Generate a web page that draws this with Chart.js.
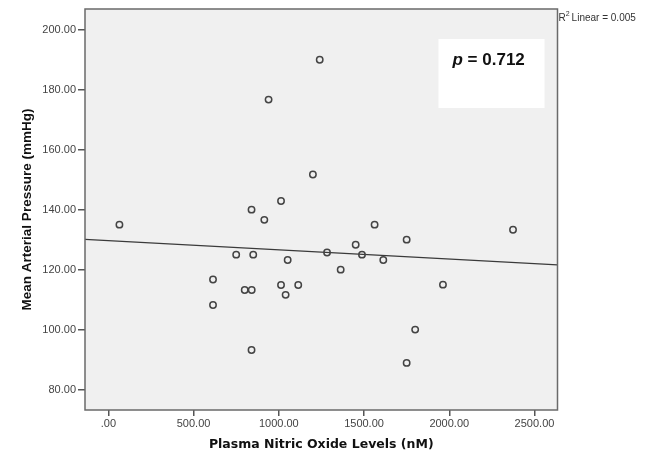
<!DOCTYPE html>
<html>
<head>
<meta charset="utf-8">
<script src="https://cdn.jsdelivr.net/npm/chart.js@4"></script>
<style>
    body { margin: 0; background: #fff; }
    canvas { display: block; }
</style>
</head>
<body>
<canvas id="scatterChart" width="659" height="452"></canvas>
<script>
// Data
const nitricOxide = [65, 614, 614, 750, 800, 840, 850, 841, 840, 915, 940, 1013, 1013, 1040, 1052, 1114, 1200, 1240, 1283, 1363, 1451, 1488, 1562, 1613, 1750, 1750, 1800, 1963, 2374];
const arterialPressure = [135.1, 116.8, 108.3, 125.1, 113.3, 140.1, 125.1, 113.3, 93.3, 136.7, 176.8, 143, 115, 111.7, 123.3, 115, 151.8, 190.1, 125.8, 120.1, 128.4, 125.1, 135.1, 123.3, 130.1, 89, 100.1, 115.1, 133.4];

// Fit line ends, as drawn across the plot
const fitX = [-137, 2635];
const fitY = [130.2, 121.7];

const xTicks = [0, 500, 1000, 1500, 2000, 2500];
const yTicks = [80, 100, 120, 140, 160, 180, 200];

const pValueText = '0.712';
const rSquaredText = '0.005';

const scatterPoints = nitricOxide.map((x, i) => ({ x: x, y: arterialPressure[i] }));
const fitPoints = fitX.map((x, i) => ({ x: x, y: fitY[i] }));

function tickLabel(v) {
    return v === 0 ? '.00' : v.toFixed(2);
}

// plot background, frame and text boxes
const plotDecor = {
    id: 'plotDecor',
    beforeDatasetsDraw(chart) {
        const { ctx, chartArea: a } = chart;
        ctx.save();
        ctx.fillStyle = '#f0f0f0';
        ctx.fillRect(a.left, a.top, a.right - a.left, a.bottom - a.top);

        // white box for p value
        ctx.fillStyle = '#ffffff';
        ctx.fillRect(a.right - 119, a.top + 30, 106, 69);
        ctx.restore();
    },
    afterDraw(chart) {
        const { ctx, chartArea: a } = chart;
        ctx.save();
        ctx.strokeStyle = '#6a6a6a';
        ctx.lineWidth = 1.5;
        ctx.strokeRect(a.left, a.top, a.right - a.left, a.bottom - a.top);

        // p = 0.712
        ctx.fillStyle = '#111';
        ctx.textBaseline = 'alphabetic';
        let x = a.right - 105;
        const y = a.top + 56;
        ctx.font = 'italic bold 17px "Liberation Sans", Arial, sans-serif';
        ctx.fillText('p', x, y);
        x += ctx.measureText('p').width;
        ctx.font = 'bold 17px "Liberation Sans", Arial, sans-serif';
        ctx.fillText(' = ' + pValueText, x, y);

        // R2 Linear label
        ctx.fillStyle = '#333';
        let rx = a.right + 1;
        ctx.font = '10px "Liberation Sans", Arial, sans-serif';
        ctx.fillText('R', rx, 21);
        rx += ctx.measureText('R').width;
        ctx.font = '7px "Liberation Sans", Arial, sans-serif';
        ctx.fillText('2', rx, 16);
        rx += ctx.measureText('2').width + 2;
        ctx.font = '10px "Liberation Sans", Arial, sans-serif';
        ctx.fillText('Linear = ' + rSquaredText, rx, 21);
        ctx.restore();
    }
};

const ctx = document.getElementById('scatterChart').getContext('2d');

new Chart(ctx, {
    type: 'scatter',
    data: {
        datasets: [
            {
                label: 'Fit',
                type: 'line',
                data: fitPoints,
                borderColor: '#3a3a3a',
                borderWidth: 1.2,
                pointRadius: 0,
                fill: false,
                order: 2
            },
            {
                label: 'MAP',
                data: scatterPoints,
                pointStyle: 'circle',
                pointRadius: 3.2,
                borderWidth: 1.5,
                borderColor: '#444',
                backgroundColor: 'rgba(0,0,0,0)',
                order: 1
            }
        ]
    },
    options: {
        responsive: false,
        animation: false,
        devicePixelRatio: 1,
        layout: { padding: { top: 9, right: 101.5, bottom: 0, left: 0 } },
        plugins: {
            legend: { display: false },
            tooltip: { enabled: false }
        },
        scales: {
            x: {
                type: 'linear',
                min: -137,
                max: 2635,
                afterFit(scale) { scale.height = 42; },
                afterBuildTicks(scale) { scale.ticks = xTicks.map(v => ({ value: v })); },
                border: { display: false },
                grid: {
                    drawOnChartArea: false,
                    drawTicks: true,
                    tickLength: 6,
                    tickColor: '#555',
                    lineWidth: 1.5
                },
                ticks: {
                    padding: 1,
                    color: '#444',
                    font: { family: '"Liberation Sans", Arial, sans-serif', size: 11 },
                    maxRotation: 0,
                    callback: tickLabel
                },
                title: {
                    display: true,
                    text: 'Plasma Nitric Oxide Levels (nM)',
                    color: '#111',
                    font: { family: '"DejaVu Sans", Verdana, sans-serif', size: 12.5, weight: 'bold' },
                    padding: { top: 0, bottom: 0 }
                }
            },
            y: {
                type: 'linear',
                min: 73.3,
                max: 207,
                afterFit(scale) { scale.width = 85; },
                afterBuildTicks(scale) { scale.ticks = yTicks.map(v => ({ value: v })); },
                border: { display: false },
                grid: {
                    drawOnChartArea: false,
                    drawTicks: true,
                    tickLength: 7,
                    tickColor: '#555',
                    lineWidth: 1.5
                },
                ticks: {
                    padding: 2,
                    color: '#444',
                    font: { family: '"Liberation Sans", Arial, sans-serif', size: 11 },
                    callback: tickLabel
                },
                title: {
                    display: true,
                    text: 'Mean Arterial Pressure (mmHg)',
                    color: '#111',
                    font: { family: '"Liberation Sans", Arial, sans-serif', size: 13.5, weight: 'bold' },
                    padding: { top: 19, bottom: 0 }
                }
            }
        }
    },
    plugins: [plotDecor]
});
</script>
</body>
</html>
